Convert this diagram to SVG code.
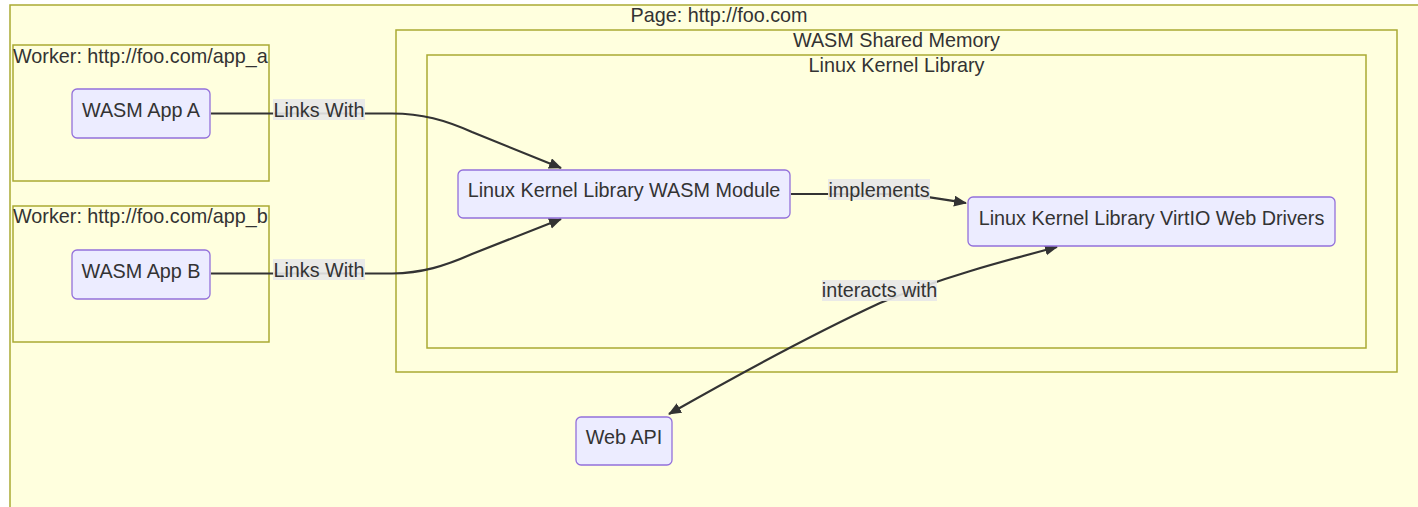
<svg xmlns="http://www.w3.org/2000/svg" width="1418" height="507" viewBox="0 0 1418 507">
<style>
.cl{fill:#ffffde;stroke:#aaaa33;stroke-width:1.5}
.nd{fill:#ececff;stroke:#9370db;stroke-width:1.3}
.t{font-family:"Liberation Sans",Arial,sans-serif;font-size:19.8px;fill:#333}
.m{text-anchor:middle}
.e{fill:none;stroke:#333;stroke-width:2.2}
.lb{fill:#e8e8e8;opacity:0.9}
</style>
<defs>
<marker id="ah" markerWidth="14" markerHeight="12" refX="12" refY="5.5" orient="auto-start-reverse" markerUnits="userSpaceOnUse">
<path d="M0,0 L13,5.5 L0,11 z" fill="#333"/>
</marker>
</defs>
<rect x="0" y="0" width="1418" height="507" fill="#ffffff"/>
<g id="page">
<rect class="cl" x="10" y="5" width="1420" height="520"/>
<text class="t m" x="719" y="22">Page: http://foo.com</text>
</g>
<g id="worker_a">
<rect class="cl" x="13" y="45" width="256" height="136"/>
<text class="t" x="13" y="63">Worker: http://foo.com/app_a</text>
</g>
<g id="worker_b">
<rect class="cl" x="13" y="206" width="256" height="136"/>
<text class="t" x="13" y="223">Worker: http://foo.com/app_b</text>
</g>
<g id="shared_memory">
<rect class="cl" x="396" y="30" width="1001" height="342"/>
<text class="t m" x="896.5" y="47">WASM Shared Memory</text>
</g>
<g id="lkl">
<rect class="cl" x="427" y="55" width="939" height="293"/>
<text class="t m" x="896.5" y="72">Linux Kernel Library</text>
</g>
<g id="connectors">
<path class="e" d="M211,113.5 L392,113.5 C422,113.5 445,120 472,132 L561,168" marker-end="url(#ah)"/>
<path class="e" d="M211,273.5 L392,273.5 C422,273 445,266 472,254 L561,219" marker-end="url(#ah)"/>
<path class="e" d="M791,194 L880,194 C915,194 935,198 966,203" marker-end="url(#ah)"/>
<path class="e" d="M669,414 C720,385 800,340 880,303 C940,278 1000,262 1057,247" marker-start="url(#ah)" marker-end="url(#ah)"/>
<rect class="lb" x="273" y="99" width="92" height="21"/>
<text class="t m" x="319" y="117">Links With</text>
<rect class="lb" x="273" y="259" width="92" height="21"/>
<text class="t m" x="319" y="277">Links With</text>
<rect class="lb" x="828" y="179" width="102" height="21"/>
<text class="t m" x="879" y="197">implements</text>
<rect class="lb" x="822" y="280" width="115" height="21"/>
<text class="t m" x="879.5" y="297">interacts with</text>
</g>
<g id="app_a">
<rect class="nd" x="72" y="89" width="138" height="49" rx="5"/>
<text class="t m" x="141" y="117">WASM App A</text>
</g>
<g id="app_b">
<rect class="nd" x="72" y="250" width="138" height="49" rx="5"/>
<text class="t m" x="141" y="278">WASM App B</text>
</g>
<g id="lkl_module">
<rect class="nd" x="458" y="170" width="332" height="48" rx="5"/>
<text class="t m" x="624" y="197">Linux Kernel Library WASM Module</text>
</g>
<g id="virtio">
<rect class="nd" x="968" y="197" width="367" height="49" rx="5"/>
<text class="t m" x="1151.5" y="225">Linux Kernel Library VirtIO Web Drivers</text>
</g>
<g id="web_api">
<rect class="nd" x="576" y="417" width="96" height="48" rx="5"/>
<text class="t m" x="624" y="444">Web API</text>
</g>
</svg>
